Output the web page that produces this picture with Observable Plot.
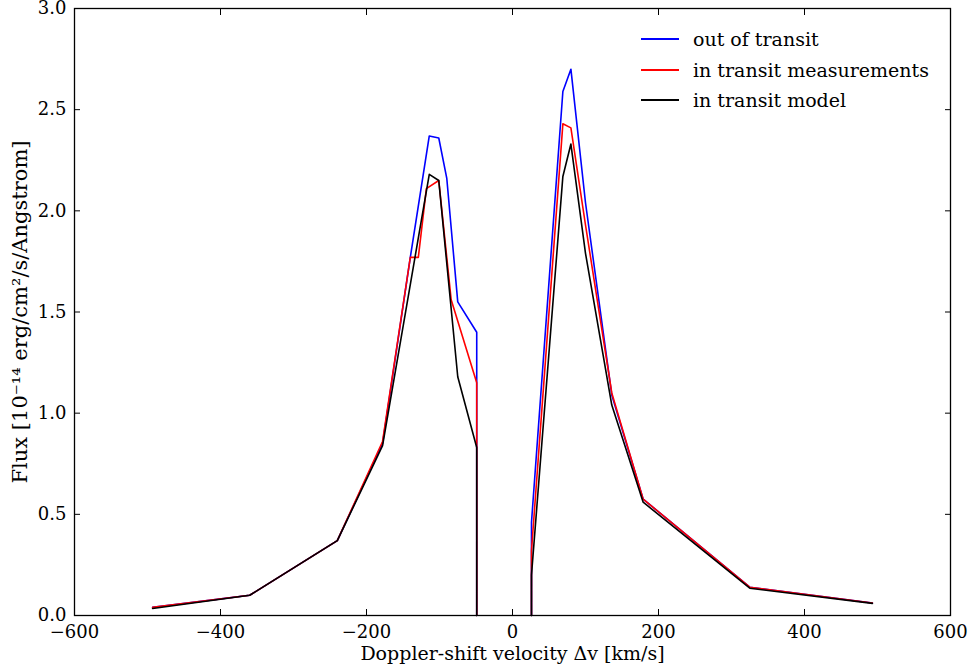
<!DOCTYPE html>
<html><head><meta charset="utf-8">
<script src="https://cdn.jsdelivr.net/npm/d3@7"></script>
<script src="https://cdn.jsdelivr.net/npm/@observablehq/plot@0.6"></script>
<style>
body{margin:0;background:#fff}
#wrap{position:relative;width:969px;height:670px}
#legend{position:absolute;left:641px;top:24px;font-family:"DejaVu Serif";font-size:19px;color:#000}
.item{display:flex;align-items:center;height:30.5px;white-space:nowrap}
.swatch{width:38px;height:0;border-top:2px solid;margin-right:14px}
</style></head><body><div id="wrap"><div id="legend"></div></div>
<script>
const seriesNames = ["out of transit", "in transit measurements", "in transit model"];
const seriesColors = ["#0000ff", "#ff0000", "#000000"];
const xTicks = [-600, -400, -200, 0, 200, 400, 600];
const yTicks = [0, 0.5, 1.0, 1.5, 2.0, 2.5, 3.0];

// out of transit
const outV = [-493, -360, -240, -178, -140, -114, -101, -90, -75, -49, -49, null, 26, 26, 69, 80, 100, 136, 179, 325, 493];
const outF = [0.04, 0.10, 0.37, 0.85, 1.77, 2.37, 2.36, 2.16, 1.55, 1.40, 0, null, 0, 0.46, 2.59, 2.70, 2.04, 1.09, 0.575, 0.14, 0.062];
// in transit measurements
const measV = [-493, -360, -240, -178, -140, -129, -118, -101, -84, -49, -49, null, 26, 26, 69, 80, 100, 136, 179, 325, 493];
const measF = [0.04, 0.10, 0.37, 0.86, 1.77, 1.77, 2.11, 2.15, 1.56, 1.15, 0, null, 0, 0.32, 2.43, 2.41, 1.93, 1.10, 0.575, 0.14, 0.062];
// in transit model
const modelV = [-493, -360, -240, -178, -114, -101, -75, -49, -49, null, 26, 26, 69, 80, 100, 136, 179, 325, 493];
const modelF = [0.035, 0.10, 0.37, 0.84, 2.18, 2.15, 1.18, 0.83, 0, null, 0, 0.20, 2.17, 2.33, 1.79, 1.04, 0.56, 0.135, 0.06];

const toRows = (V, F) => V.map((v, i) => ({v, f: F[i]}));
const series = [toRows(outV, outF), toRows(measV, measF), toRows(modelV, modelF)];

const chart = Plot.plot({
  width: 969, height: 670,
  marginLeft: 74, marginRight: 19, marginTop: 8, marginBottom: 55,
  style: {fontFamily: "DejaVu Serif", fontSize: "18px", background: "white", color: "black"},
  x: {domain: [-600, 600]},
  y: {domain: [0, 3]},
  marks: [
    ...series.map((rows, i) => Plot.line(rows, {x: "v", y: "f", stroke: seriesColors[i], strokeWidth: 1.6})),
    Plot.frame({stroke: "black", strokeWidth: 1.3}),
    Plot.axisX(xTicks, {anchor: "bottom", tickSize: -6, tickPadding: 16, tickFormat: d3.format("d"),
      label: "Doppler-shift velocity Δv [km/s]", labelAnchor: "center", labelArrow: "none", labelOffset: 44}),
    Plot.axisX(xTicks, {anchor: "top", tickSize: -6, tickFormat: () => null, label: null}),
    Plot.axisY(yTicks, {anchor: "left", tickSize: -6, tickPadding: 14, tickFormat: d3.format(".1f"),
      label: "Flux [10⁻¹⁴ erg/cm²/s/Angstrom]", labelAnchor: "center", labelArrow: "none", labelOffset: 62}),
    Plot.axisY(yTicks, {anchor: "right", tickSize: -6, tickFormat: () => null, label: null})
  ]
});
const xl = chart.querySelector('[aria-label="x-axis label"]');
if (xl) xl.setAttribute("font-size", "19");
const yl = chart.querySelector('[aria-label="y-axis label"]');
if (yl) yl.setAttribute("font-size", "21");
document.getElementById("wrap").prepend(chart);

const legend = document.getElementById("legend");
seriesNames.forEach((name, i) => {
  const item = document.createElement("div");
  item.className = "item";
  const sw = document.createElement("span");
  sw.className = "swatch";
  sw.style.borderColor = seriesColors[i];
  const t = document.createElement("span");
  t.textContent = name;
  item.append(sw, t);
  legend.append(item);
});
</script>
</body></html>
